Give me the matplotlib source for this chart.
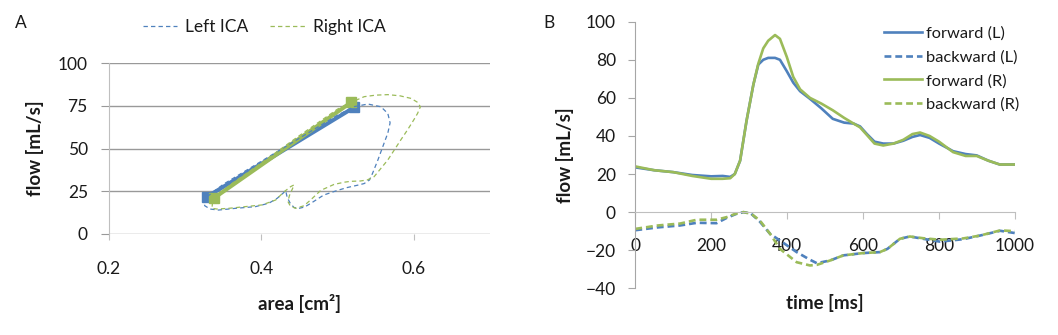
import matplotlib
matplotlib.use("Agg")
import matplotlib.pyplot as plt

plt.rcParams['font.family'] = ['Lato', 'DejaVu Sans']

BLUE = '#4F81BD'
GREEN = '#9BBB59'

# Panel A: flow vs area
line_L_area = [0.329, 0.522]
line_L_flow = [21.8, 74.1]
line_R_area = [0.3377, 0.518]
line_R_flow = [20.9, 77.0]

loop_L_area = [0.329, 0.35, 0.40, 0.45, 0.50, 0.522, 0.54, 0.557, 0.566, 0.569, 0.566,
               0.561, 0.553, 0.546, 0.542, 0.535, 0.526, 0.513, 0.50, 0.482, 0.467,
               0.457, 0.4495, 0.443, 0.438, 0.434, 0.432, 0.429, 0.421, 0.41, 0.3925,
               0.366, 0.344, 0.333, 0.326, 0.3245, 0.329]
loop_L_flow = [21.8, 29, 42.5, 56, 69.5, 74.5, 76, 74.4, 70.5, 65, 59,
               53, 43.3, 35.5, 31.6, 29.5, 28.5, 27.2, 25.5, 22.8, 18.5,
               15.8, 15, 15.5, 18, 21.5, 25.5, 24, 20.9, 18, 16,
               15, 14, 14.6, 16.5, 18.9, 21.8]

loop_R_area = [0.3377, 0.36, 0.40, 0.45, 0.50, 0.518, 0.535, 0.55, 0.566, 0.582, 0.5965,
               0.605, 0.6087, 0.605, 0.60, 0.592, 0.583, 0.566, 0.548, 0.539, 0.53,
               0.5175, 0.509, 0.4955, 0.478, 0.465, 0.456, 0.445, 0.438, 0.435, 0.437,
               0.441, 0.443, 0.4386, 0.43, 0.419, 0.401, 0.379, 0.357, 0.342, 0.3355,
               0.336, 0.3377]
loop_R_flow = [20.9, 29, 41.5, 57.5, 73, 77, 80.3, 81.2, 81.5, 80.8, 79.3,
               77, 74.4, 70.5, 66.7, 61, 55, 43.3, 33.5, 31.6, 31,
               30.8, 30.3, 29, 25.5, 20, 16.5, 15, 16.5, 19, 22.5,
               26.5, 28.7, 27.7, 24.7, 19.9, 17, 16, 15, 14.6, 15,
               18, 20.9]

# Panel B: flow waveforms
t_fwd = [0, 50, 100, 150, 200, 230, 250, 262, 276, 293, 311, 324, 337, 350, 368, 381,
         399, 416, 434, 460, 490, 520, 550, 575, 592, 610, 630, 653, 680, 706, 730,
         750, 775, 800, 837, 870, 899, 930, 960, 1000]
fwd_L = [23.5, 22, 21, 19.5, 18.8, 19, 18.5, 20, 27, 48, 67, 77.5, 80, 81, 81, 80,
         74, 68, 63.5, 59.5, 54.5, 49, 47, 46.5, 45, 41, 37, 36, 36, 37.5, 39.5,
         40.5, 39, 36, 32, 30.5, 29.8, 27, 25, 25]
fwd_R = [24, 22, 21, 19, 17.5, 17.5, 17.8, 20, 27, 48, 67, 78, 86, 90, 93, 91,
         81.5, 71, 64.5, 60, 57, 53.5, 49.5, 46.5, 44.5, 40.5, 36, 35, 36, 38, 41,
         41.8, 40, 37, 31.5, 29.5, 29.5, 27, 25, 25]

t_bwd = [0, 60, 118, 162, 214, 241, 265, 285, 305, 328, 355, 381, 425, 460, 478,
         513, 548, 600, 644, 664, 697, 723, 758, 802, 864, 908, 961, 1000]
bwd_L = [-9.5, -8, -7, -5.6, -5.8, -3, -1, 0, -0.8, -5, -11.4, -14.9, -21, -25, -26.8,
         -25.4, -22.7, -21.5, -21, -19.3, -14, -12.8, -14, -15.5, -14.2, -12.3, -9.8, -11]
bwd_R = [-8.8, -7, -6, -4, -4, -2.6, -0.8, 0, -0.8, -4.4, -11.4, -19.3, -26.3, -28, -27.7,
         -25.4, -22.7, -21.5, -21, -19.3, -14, -12.8, -13.7, -14.5, -13.8, -12.3, -9.6, -10]

W, H = 1058, 335
fig = plt.figure(figsize=(W / 100, H / 100), dpi=100)

GRID = '#999999'
AXC = '#BFBFBF'
TXT = '#1A1A1A'
TICK_FS = 12.5
LAB_FS = 13.5

# ---- panel A ----
axA = fig.add_axes([108.7 / W, 1 - 234 / H, (490 - 108.7) / W, (234 - 63) / H])
axA.plot(line_L_area, line_L_flow, color=BLUE, lw=2.9, marker='s', ms=6.5, zorder=3)
axA.plot(line_R_area, line_R_flow, color=GREEN, lw=2.9, marker='s', ms=6.5, zorder=3)
axA.plot(loop_L_area, loop_L_flow, color=BLUE, lw=0.9, ls=(0, (3.5, 2.5)),
         label='Left ICA', zorder=4)
axA.plot(loop_R_area, loop_R_flow, color=GREEN, lw=0.9, ls=(0, (3.5, 2.5)),
         label='Right ICA', zorder=4)
axA.set_xlim(0.2, 0.7)
axA.set_ylim(0, 100)
axA.set_xticks([0.2, 0.4, 0.6])
axA.set_xticklabels(['0.2', '0.4', '0.6'])
axA.set_yticks([0, 25, 50, 75, 100])
axA.yaxis.grid(True, color=GRID, lw=1)
axA.set_axisbelow(True)
for s in ['top', 'right', 'bottom']:
    axA.spines[s].set_visible(False)
axA.spines['left'].set_color(AXC)
axA.tick_params(axis='y', length=6, color=GRID, pad=9, labelsize=TICK_FS, labelcolor=TXT)
axA.tick_params(axis='x', length=4.5, color=AXC, pad=15, labelsize=TICK_FS, labelcolor=TXT)
axA.set_ylabel('flow [mL/s]', fontsize=LAB_FS, fontweight='bold', color=TXT)
axA.yaxis.set_label_coords(-0.193, 0.5)
axA.set_xlabel('area [cm²]', fontsize=LAB_FS, fontweight='bold', color=TXT)
axA.xaxis.set_label_coords(0.5, -0.404)
axA.xaxis.label.set_va('center')
axA.yaxis.label.set_va('center')
axA.legend(loc='center', bbox_to_anchor=(0.407, 1.21), ncol=2, frameon=False,
           fontsize=12.5, handlelength=2.0, handletextpad=0.45, columnspacing=1.25,
           borderpad=0, labelcolor=TXT)
fig.text(15 / W, 1 - 23 / H, 'A', fontsize=12.5, color=TXT, va='center', ha='left')

# ---- panel B ----
axB = fig.add_axes([635.3 / W, 1 - 288.3 / H, (1015 - 635.3) / W, (288.3 - 21.7) / H])
axB.plot(t_fwd, fwd_L, color=BLUE, lw=1.9, label='forward (L)')
axB.plot(t_bwd, bwd_L, color=BLUE, lw=1.9, ls=(0, (2.6, 1.5)), label='backward (L)')
axB.plot(t_fwd, fwd_R, color=GREEN, lw=1.9, label='forward (R)')
axB.plot(t_bwd, bwd_R, color=GREEN, lw=1.9, ls=(0, (2.6, 1.5)), label='backward (R)')
axB.set_xlim(0, 1000)
axB.set_ylim(-40, 100)
axB.set_xticks(range(0, 1001, 200))
axB.set_yticks(range(-40, 101, 20))
for s in ['top', 'right']:
    axB.spines[s].set_visible(False)
axB.spines['bottom'].set_position(('data', 0))
axB.spines['bottom'].set_color(AXC)
axB.spines['left'].set_color('#A6A6A6')
axB.tick_params(axis='x', length=5, color=AXC, pad=13.5, labelsize=TICK_FS, labelcolor=TXT)
axB.tick_params(axis='y', length=5, color='#A6A6A6', pad=9, labelsize=TICK_FS, labelcolor=TXT)
axB.set_ylabel('flow [mL/s]', fontsize=LAB_FS, fontweight='bold', color=TXT)
axB.yaxis.set_label_coords(-0.185, 0.5)
axB.yaxis.label.set_va('center')
axB.set_xlabel('time [ms]', fontsize=LAB_FS, fontweight='bold', color=TXT)
axB.xaxis.set_label_coords(0.5, -0.055)
axB.xaxis.label.set_va('center')
axB.legend(loc='center', bbox_to_anchor=(0.833, 0.8226), frameon=False, fontsize=11.8,
           handlelength=2.3, handletextpad=0.25, labelspacing=0.58, borderpad=0,
           labelcolor=TXT)
fig.text(549 / W, 1 - 23 / H, 'B', fontsize=12.5, color=TXT, va='center', ha='center')

fig.savefig('out.png', dpi=100)
